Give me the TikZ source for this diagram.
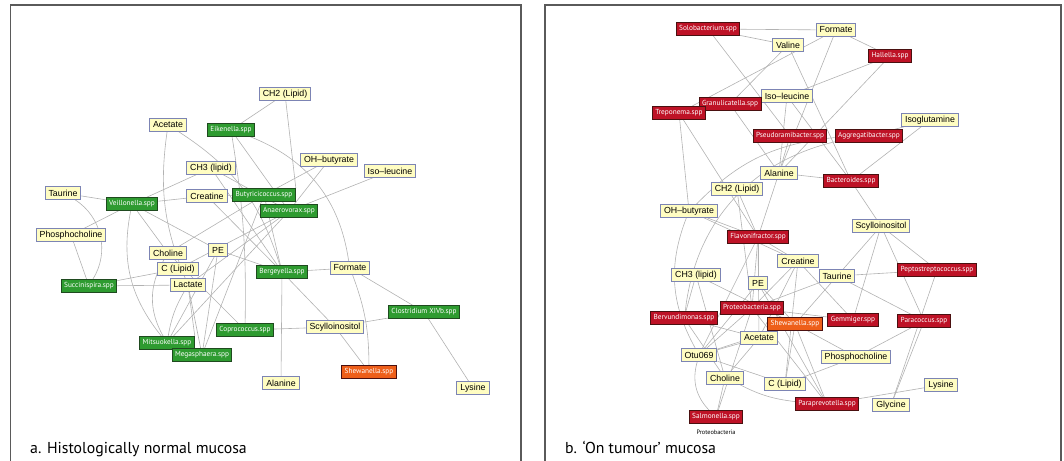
\documentclass[tikz,border=0pt]{standalone}
\usepackage{fontspec}
\setmainfont{Liberation Sans}
\newfontfamily\bacfont{PT Sans}
\newfontfamily\capfont{PT Sans}
\usetikzlibrary{backgrounds}
\definecolor{metfill}{HTML}{FFFDC2}
\definecolor{metdraw}{HTML}{7C84B4}
\definecolor{grnfill}{HTML}{2E9B30}
\definecolor{grndraw}{HTML}{1F4A1F}
\definecolor{redfill}{HTML}{BE1226}
\definecolor{reddraw}{HTML}{4A1010}
\definecolor{orgfill}{HTML}{EE5F1A}
\definecolor{edgecol}{HTML}{B2B2B2}
\definecolor{framecol}{HTML}{5A5A5A}
\tikzset{
  met/.style={draw=metdraw,fill=metfill,line width=0.95pt,inner xsep=3.5pt,inner ysep=0pt,minimum height=12.5pt,font=\fontsize{8.8}{9}\selectfont,text=black},
  bac/.style={draw=grndraw,fill=grnfill,line width=0.95pt,inner xsep=3pt,inner ysep=0pt,minimum height=12.5pt,font=\bacfont\fontsize{7.3}{8}\selectfont,text=white},
  gbac/.style={bac},
  rbac/.style={bac,fill=redfill,draw=reddraw},
  obac/.style={bac,fill=orgfill,draw=reddraw},
  lnk/.style={draw=edgecol,line width=0.6pt},
  panelframe/.style={draw=framecol,line width=1.4pt},
  caption/.style={font=\capfont\fontsize{15.8}{17}\selectfont,anchor=base west,inner sep=0pt}
}
\begin{document}
\begin{tikzpicture}[x=1pt,y=-1pt]
\useasboundingbox (0,0) rectangle (1064,460);
\begin{scope}
\clip (0,0) rectangle (1064,460);
\draw[panelframe] (10.5,5) rectangle (521,480);
\draw[panelframe] (545,5) rectangle (1061,480);
\end{scope}

% ---------- panel a ----------
\node[met] (aAce) at (168,125) {Acetate};
\node[gbac] (aEik) at (231,130) {Eikenella.spp};
\node[met] (aCH2) at (285,94) {CH2 (Lipid)};
\node[met] (aCH3) at (211,168) {CH3 (lipid)};
\node[met] (aTau) at (63,193) {Taurine};
\node[gbac] (aVei) at (132,204) {Veillonella.spp};
\node[met] (aCre) at (207,196) {Creatine};
\node[gbac] (aBut) at (264,195) {Butyricicoccus.spp};
\node[gbac] (aAna) at (289,211) {Anaerovorax.spp};
\node[met] (aOH) at (329,160) {OH–butyrate};
\node[met] (aIso) at (390,171) {Iso–leucine};
\node[met] (aPho) at (71,235) {Phosphocholine};
\node[met] (aCho) at (168,253) {Choline};
\node[met] (aPE) at (218,250) {PE};
\node[met] (aCL) at (178,269) {C (Lipid)};
\node[met] (aLac) at (188,285) {Lactate};
\node[gbac] (aSuc) at (89,286) {Succinispira.spp};
\node[gbac] (aMit) at (167,343) {Mitsuokella.spp};
\node[gbac] (aMeg) at (202,355) {Megasphaera.spp};
\node[gbac] (aCop) at (245,330) {Coprococcus.spp};
\node[gbac] (aBer) at (282,272) {Bergeyella.spp};
\node[met] (aFor) at (350,268) {Formate};
\node[gbac] (aClo) at (424,312) {Clostridium XIVb.spp};
\node[met] (aScy) at (335,327) {Scylloinositol};
\node[obac] (aShe) at (369,372) {Shewanella.spp};
\node[met] (aAla) at (281,383) {Alanine};
\node[met] (aLys) at (473,388) {Lysine};

% ---------- panel b ----------
\node[rbac] (bSol) at (708,29) {Solobacterium.spp};
\node[met] (bFor) at (836,30) {Formate};
\node[met] (bVal) at (788,45) {Valine};
\node[rbac] (bHal) at (890,56) {Hallella.spp};
\node[met] (bIso) at (787,96) {Iso–leucine};
\node[rbac] (bGra) at (730,104) {Granulicatella.spp};
\node[rbac] (bTre) at (679,113) {Treponema.spp};
\node[rbac] (bPse) at (790,136) {Pseudoramibacter.spp};
\node[rbac] (bAgg) at (869,136) {Aggregatibacter.spp};
\node[met] (bIsg) at (930,120) {Isoglutamine};
\node[met] (bAla) at (779,173) {Alanine};
\node[rbac] (bBac) at (851,181) {Bacteroides.spp};
\node[met] (bCH2) at (737,189) {CH2 (Lipid)};
\node[met] (bOH) at (689,211) {OH–butyrate};
\node[met] (bScy) at (881,226) {Scylloinositol};
\node[rbac] (bFla) at (758,237) {Flavonifractor.spp};
\node[met] (bCre) at (798,261) {Creatine};
\node[met] (bTau) at (837,276) {Taurine};
\node[met] (bCH3) at (696,275) {CH3 (lipid)};
\node[met] (bPE) at (758,283) {PE};
\node[rbac] (bPep) at (937,270) {Peptostreptococcus.spp};
\node[rbac] (bPro) at (752,308) {Proteobacteria.spp};
\node[rbac] (bBer) at (684,318) {Bervundimonas.spp};
\node[obac] (bShe) at (795,324) {Shewanella.spp};
\node[rbac] (bGem) at (853,320) {Gemmiger.spp};
\node[rbac] (bPar) at (924,321) {Paracoccus.spp};
\node[met] (bAce) at (759,338) {Acetate};
\node[met] (bOtu) at (699,355) {Otu069};
\node[met] (bPho) at (856,357) {Phosphocholine};
\node[met] (bCho) at (725,378) {Choline};
\node[met] (bCL) at (785,384) {C (Lipid)};
\node[met] (bLys) at (941,385) {Lysine};
\node[rbac] (bPpv) at (827,404) {Paraprevotella.spp};
\node[met] (bGly) at (891,405) {Glycine};
\node[rbac] (bSal) at (716,417) {Salmonella.spp};
\node[font=\bacfont\fontsize{6.3}{7}\selectfont,inner sep=0pt] (bProCap) at (716,432) {Proteobacteria};

% ---------- captions ----------
\node[caption] (capA) at (30,453) {a. Histologically normal mucosa};
\node[caption] (capB) at (565,453) {b. ‘On tumour’ mucosa};

\begin{pgfonlayer}{background}
% panel a links
\draw[lnk] (aCH2) -- (aEik);
\draw[lnk] (aCH2) -- (aBut.north east);
\draw[lnk] (aAce) to[bend right=15] (aLac);
\draw[lnk] (aAce) to[bend left=20] (aBer);
\draw[lnk] (aEik) to[bend left=5] (aCop);
\draw[lnk] (aEik) -- (aAna);
\draw[lnk] (aEik) to[bend left=30] (aFor);
\draw[lnk] (aCH3) -- (aVei);
\draw[lnk] (aCH3) -- (aBer);
\draw[lnk] (aCH3) -- (aAna);
\draw[lnk] (aTau) -- (aVei);
\draw[lnk] (aTau) to[bend left=45] (aSuc);
\draw[lnk] (aPho) -- (aVei);
\draw[lnk] (aPho) -- (aSuc);
\draw[lnk] (aVei) -- (aCre);
\draw[lnk] (aVei) -- (aPE);
\draw[lnk] (aVei) -- (aCho);
\draw[lnk] (aVei) to[bend right=25] (aMit);
\draw[lnk] (aCre) -- (aBut);
\draw[lnk] (aCre) -- (aBer);
\draw[lnk] (aBut) -- (aOH);
\draw[lnk] (aAna) -- (aOH);
\draw[lnk] (aAna) -- (aIso);
\draw[lnk] (aBut) -- (aCho);
\draw[lnk] (aAna) -- (aCL);
\draw[lnk] (aBut) -- (aMeg);
\draw[lnk] (aAna) -- (aLac);
\draw[lnk] (aAna) -- (aMit);
\draw[lnk] (aBut) -- (aBer);
\draw[lnk] (aPE) -- (aBer);
\draw[lnk] (aPE) -- (aMit);
\draw[lnk] (aPE) -- (aMeg);
\draw[lnk] (aCho) -- (aCop);
\draw[lnk] (aCL) -- (aSuc);
\draw[lnk] (aLac) -- (aSuc);
\draw[lnk] (aLac) to[bend right=10] (aMit);
\draw[lnk] (aLac) -- (aMit.north east);
\draw[lnk] (aLac) -- (aMeg);
\draw[lnk] (aCho) to[bend right=30] (aMit);
\draw[lnk] (aBer) -- (aFor);
\draw[lnk] (aBer) -- (aAla);
\draw[lnk] (aBer) -- (aScy);
\draw[lnk] (aFor) -- (aClo);
\draw[lnk] (aFor) to[bend left=10] (aShe);
\draw[lnk] (aScy) -- (aClo);
\draw[lnk] (aScy) -- (aShe);
\draw[lnk] (aScy) -- (aCop);
\draw[lnk] (aClo) -- (aLys);

% panel b links
\draw[lnk] (bSol) -- (bFor);
\draw[lnk] (bSol) -- (bVal);
\draw[lnk] (bSol) -- (bPse);
\draw[lnk] (bFor) -- (bHal);
\draw[lnk] (bFor) -- (bTre);
\draw[lnk] (bFor) -- (bAla);
\draw[lnk] (bVal) -- (bGra);
\draw[lnk] (bVal) -- (bBac);
\draw[lnk] (bHal) -- (bIso);
\draw[lnk] (bHal) -- (bAla);
\draw[lnk] (bIso) -- (bTre);
\draw[lnk] (bIso) -- (bAla);
\draw[lnk] (bIso) -- (bBac);
\draw[lnk] (bGra) -- (bAla);
\draw[lnk] (bTre) -- (bOH);
\draw[lnk] (bTre) -- (bFla);
\draw[lnk] (bPse) -- (bAla);
\draw[lnk] (bAgg) to[bend right=20] (bOH);
\draw[lnk] (bAgg) to[bend right=35] (bBer);
\draw[lnk] (bIsg) -- (bAgg);
\draw[lnk] (bIsg) -- (bBac);
\draw[lnk] (bAla) -- (bBac);
\draw[lnk] (bAla) -- (bFla);
\draw[lnk] (bBac) -- (bScy);
\draw[lnk] (bCH2) -- (bFla);
\draw[lnk] (bCH2) -- (bPro);
\draw[lnk] (bOH) -- (bFla);
\draw[lnk] (bOH) to[bend right=25] (bOtu);
\draw[lnk] (bOH) -- (bCre);
\draw[lnk] (bScy) -- (bShe);
\draw[lnk] (bScy) -- (bPep);
\draw[lnk] (bScy) -- (bPar);
\draw[lnk] (bScy) -- (bGem);
\draw[lnk] (bFla) -- (bPE);
\draw[lnk] (bFla) -- (bPro);
\draw[lnk] (bFla) -- (bAce);
\draw[lnk] (bFla) -- (bCre);
\draw[lnk] (bFla) -- (bOtu);
\draw[lnk] (bCre) -- (bPro);
\draw[lnk] (bCre) -- (bGem);
\draw[lnk] (bCre) -- (bAce);
\draw[lnk] (bCre) -- (bCL);
\draw[lnk] (bTau) -- (bPep);
\draw[lnk] (bTau) -- (bPar);
\draw[lnk] (bTau) -- (bPro);
\draw[lnk] (bCH3) -- (bBer);
\draw[lnk] (bCH3) -- (bShe);
\draw[lnk] (bCH3) -- (bCho);
\draw[lnk] (bPE) -- (bShe);
\draw[lnk] (bPE) -- (bOtu);
\draw[lnk] (bPE) -- (bPpv);
\draw[lnk] (bPep) -- (bGly);
\draw[lnk] (bPar) -- (bGly);
\draw[lnk] (bPar) -- (bPho);
\draw[lnk] (bPro) -- (bSal);
\draw[lnk] (bPro) -- (bPpv);
\draw[lnk] (bPro) -- (bOtu);
\draw[lnk] (bPro) -- (bGem);
\draw[lnk] (bBer) -- (bAce);
\draw[lnk] (bBer) -- (bCho);
\draw[lnk] (bShe) -- (bCL);
\draw[lnk] (bShe) -- (bPpv);
\draw[lnk] (bShe) -- (bPho);
\draw[lnk] (bShe) -- (bOtu);
\draw[lnk] (bAce) -- (bCho);
\draw[lnk] (bAce) -- (bOtu);
\draw[lnk] (bOtu) -- (bCL);
\draw[lnk] (bCho) to[bend right=10] (bPpv);
\draw[lnk] (bCho) -- (bSal);
\draw[lnk] (bCL) -- (bPho);
\draw[lnk] (bPpv) -- (bLys);
\draw[lnk] (bSal) to[bend left=30] (bOtu);
\end{pgfonlayer}
\end{tikzpicture}
\end{document}
